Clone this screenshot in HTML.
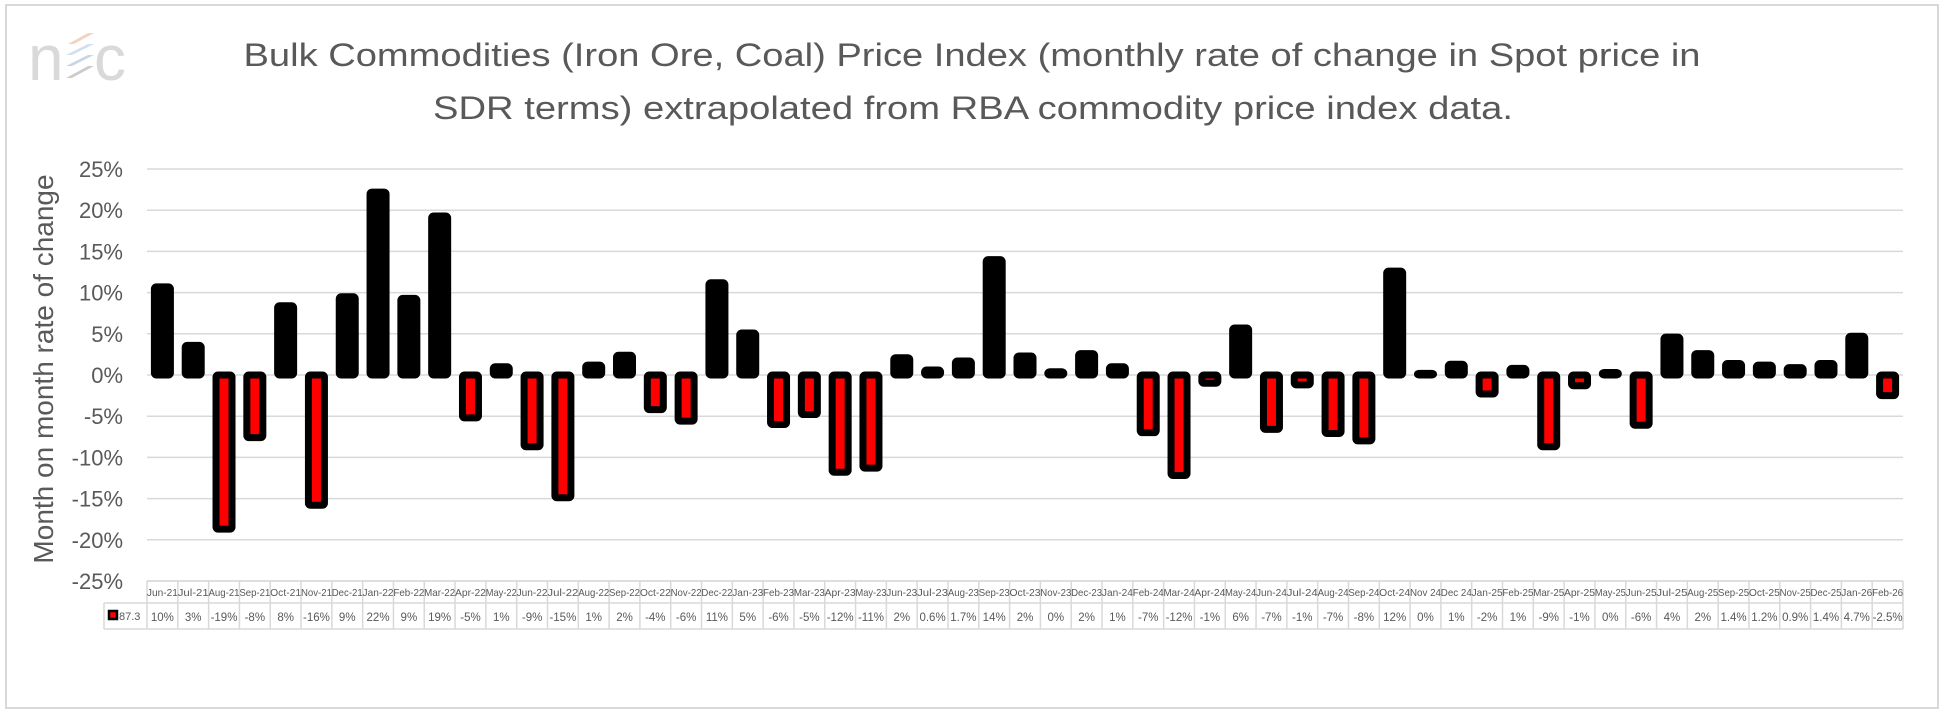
<!DOCTYPE html>
<html><head><meta charset="utf-8"><style>
html,body{margin:0;padding:0;background:#fff}
svg{display:block}
text{font-family:"Liberation Sans",sans-serif}
</style></head><body>
<svg id="chart" width="1944" height="714" viewBox="0 0 1944 714" xmlns="http://www.w3.org/2000/svg">
<rect x="6" y="5" width="1932" height="703" fill="#fff" stroke="#d9d9d9" stroke-width="2"/>
<g>
<text x="28" y="80" font-size="64" fill="#d9d9d9">n</text>
<polygon points="68,44 88,33 94,33 74,44" fill="#f4d2bd"/>
<polygon points="66,55 88,44 94,44 72,55" fill="#cfe0f0"/>
<polygon points="66,66 88,55 94,55 72,66" fill="#c9d5e4"/>
<polygon points="66,78 88,66 94,66 72,78" fill="#cccccc"/>
<text x="94" y="80" font-size="64" fill="#d9d9d9">c</text>
</g>
<text x="972" y="66" font-size="32" fill="#595959" text-anchor="middle" textLength="1457" lengthAdjust="spacingAndGlyphs">Bulk Commodities (Iron Ore, Coal) Price Index (monthly rate of change in Spot price in</text>
<text x="973" y="119" font-size="32" fill="#595959" text-anchor="middle" textLength="1080" lengthAdjust="spacingAndGlyphs">SDR terms) extrapolated from RBA commodity price index data.</text>
<text transform="translate(53,369) rotate(-90)" font-size="28" fill="#595959" text-anchor="middle">Month on month rate of change</text>
<g id="grid"></g><g id="bars"></g><g id="table"></g>
</svg>
<script>
const categories=["Jun-21","Jul-21","Aug-21","Sep-21","Oct-21","Nov-21","Dec-21","Jan-22","Feb-22","Mar-22","Apr-22","May-22","Jun-22","Jul-22","Aug-22","Sep-22","Oct-22","Nov-22","Dec-22","Jan-23","Feb-23","Mar-23","Apr-23","May-23","Jun-23","Jul-23","Aug-23","Sep-23","Oct-23","Nov-23","Dec-23","Jan-24","Feb-24","Mar-24","Apr-24","May-24","Jun-24","Jul-24","Aug-24","Sep-24","Oct-24","Nov 24","Dec 24","Jan-25","Feb-25","Mar-25","Apr-25","May-25","Jun-25","Jul-25","Aug-25","Sep-25","Oct-25","Nov-25","Dec-25","Jan-26","Feb-26"];
const values=[10.7,3.6,-18.7,-7.6,8.4,-15.8,9.5,22.2,9.3,19.3,-5.2,1,-8.7,-14.9,1.2,2.4,-4.2,-5.6,11.2,5.1,-6,-4.8,-11.8,-11.3,2.1,0.6,1.7,14,2.3,0.4,2.6,1,-7,-12.2,-1,5.7,-6.6,-1.2,-7.1,-8,12.6,0.2,1.3,-2.3,0.8,-8.7,-1.3,0.3,-6.1,4.6,2.6,1.4,1.2,0.9,1.4,4.7,-2.5];
const valueLabels=["10%","3%","-19%","-8%","8%","-16%","9%","22%","9%","19%","-5%","1%","-9%","-15%","1%","2%","-4%","-6%","11%","5%","-6%","-5%","-12%","-11%","2%","0.6%","1.7%","14%","2%","0%","2%","1%","-7%","-12%","-1%","6%","-7%","-1%","-7%","-8%","12%","0%","1%","-2%","1%","-9%","-1%","0%","-6%","4%","2%","1.4%","1.2%","0.9%","1.4%","4.7%","-2.5%"];
const yTicks=[25,20,15,10,5,0,-5,-10,-15,-20,-25];
const NS="http://www.w3.org/2000/svg";
const L=147,R=1903,T=169,B=581,yMax=25,yMin=-25;
const y=v=>T+(yMax-v)/(yMax-yMin)*(B-T);
const cw=(R-L)/categories.length;
const x=i=>L+cw*i+cw/2;
function mk(tag,attrs,parent,txt){const e=document.createElementNS(NS,tag);for(const k in attrs)e.setAttribute(k,attrs[k]);if(txt!==undefined)e.textContent=txt;parent.appendChild(e);return e;}
const grid=document.getElementById('grid');
yTicks.forEach(t=>{
  const ln=mk('line',{x1:L,x2:R,y1:y(t),y2:y(t),stroke:'#d9d9d9','stroke-width':1.5},grid);
  
  
  const tx=mk('text',{x:123,y:y(t)+8,'font-size':22,fill:'#595959','text-anchor':'end'},grid,t+'%');
  
  
});
const bars=document.getElementById('bars');
values.forEach((v,i)=>{
  const y0=y(0),y1=y(v);
  const r=mk('rect',{x:x(i)-8,y:Math.min(y0,y1),width:16,height:Math.max(0.5,Math.abs(y1-y0)),fill:v<0?'#ff0000':'#000',stroke:'#000','stroke-width':7,'stroke-linejoin':'round',rx:2},bars);
  
  
});
const tb=document.getElementById('table');
const h1=581,h2=603,h3=629;
const g='#d9d9d9';
mk('line',{x1:L,x2:R,y1:h1,y2:h1,stroke:g,'stroke-width':1.5},tb);
mk('line',{x1:104,x2:R,y1:h2,y2:h2,stroke:g,'stroke-width':1.5},tb);
mk('line',{x1:104,x2:R,y1:h3,y2:h3,stroke:g,'stroke-width':1.5},tb);
mk('line',{x1:104,x2:104,y1:h2,y2:h3,stroke:g,'stroke-width':1.5},tb);
for(let i=0;i<=categories.length;i++){const xx=L+cw*i;mk('line',{x1:xx,x2:xx,y1:h1,y2:h3,stroke:g,'stroke-width':1.5},tb);}
const lg=mk('rect',{x:109,y:611,width:8,height:8,fill:'#ff0000',stroke:'#000','stroke-width':2.5},tb);


const lt=mk('text',{x:119,y:620,'font-size':11,fill:'#595959'},tb,'87.3');


categories.forEach((c,i)=>{
  const t=mk('text',{x:x(i),y:596,'font-size':10.5,fill:'#595959','text-anchor':'middle',textLength:Math.min(31,c.length*5.6),lengthAdjust:'spacingAndGlyphs'},tb,c);
  
  
  const v=mk('text',{x:x(i),y:621,'font-size':11.5,fill:'#595959','text-anchor':'middle'},tb,valueLabels[i]);
  
  
});
</script>
</body></html>
